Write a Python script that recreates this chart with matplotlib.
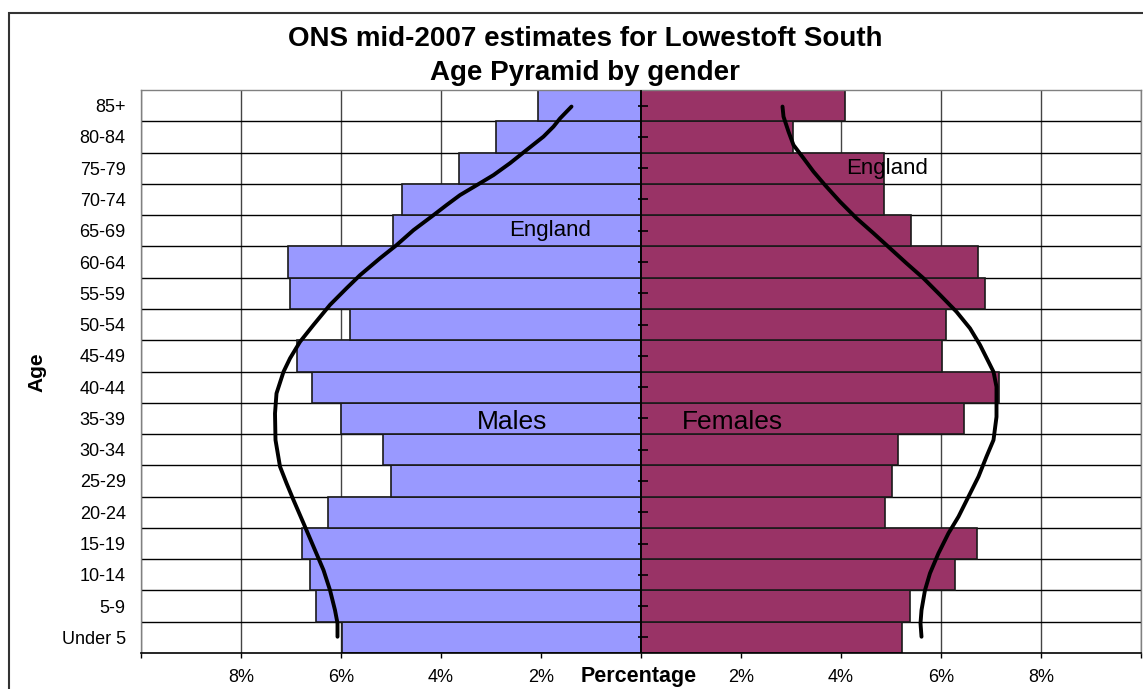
import numpy as np
import matplotlib
matplotlib.use('Agg')
import matplotlib.pyplot as plt
from matplotlib.patches import Rectangle

plt.rcParams['font.family'] = ['Liberation Sans', 'DejaVu Sans']

# ---------------- data ----------------
age_groups = ["Under 5", "5-9", "10-14", "15-19", "20-24", "25-29", "30-34",
              "35-39", "40-44", "45-49", "50-54", "55-59", "60-64", "65-69",
              "70-74", "75-79", "80-84", "85+"]
males = [5.99, 6.51, 6.62, 6.79, 6.27, 5.01, 5.16, 6.01, 6.58, 6.88,
         5.83, 7.03, 7.06, 4.96, 4.78, 3.64, 2.91, 2.07]
females = [5.22, 5.37, 6.28, 6.71, 4.88, 5.02, 5.14, 6.45, 7.15, 6.02,
           6.09, 6.88, 6.73, 5.39, 4.86, 4.86, 3.04, 4.07]

x_ticks = [-10, -8, -6, -4, -2, 0, 2, 4, 6, 8, 10]
x_tick_labels = ["", "8%", "6%", "4%", "2%", "", "2%", "4%", "6%", "8%", ""]

# hand-drawn England outlines (percent, position on age axis)
england_male_pct = [6.07, 6.07, 6.12, 6.22, 6.35, 6.55, 6.75, 6.95, 7.09, 7.22,
                    7.31, 7.32, 7.29, 7.15, 7.02, 6.82, 6.55, 6.22, 5.89, 5.62,
                    5.22, 4.89, 4.55, 4.15, 3.89, 3.62, 3.22, 2.95, 2.62, 2.29,
                    1.95, 1.75, 1.62, 1.39]
england_male_pos = [0.02, 0.45, 0.87, 1.51, 2.15, 2.90, 3.65, 4.39, 4.93, 5.46,
                    6.31, 7.16, 7.80, 8.49, 8.92, 9.45, 9.99, 10.63, 11.16, 11.58,
                    12.12, 12.54, 13.02, 13.50, 13.82, 14.14, 14.52, 14.78, 15.16, 15.58,
                    16.01, 16.33, 16.59, 16.97]
england_female_pct = [5.61, 5.59, 5.61, 5.68, 5.78, 5.95, 6.15, 6.35, 6.55, 6.75,
                      6.91, 7.05, 7.11, 7.11, 7.05, 6.95, 6.78, 6.58, 6.31, 5.98,
                      5.65, 5.31, 4.98, 4.65, 4.31, 3.98, 3.68, 3.45, 3.25, 3.05,
                      2.95, 2.85, 2.83]
england_female_pos = [0.02, 0.45, 0.87, 1.51, 2.05, 2.69, 3.33, 3.86, 4.50, 5.14,
                      5.78, 6.31, 7.05, 8.01, 8.49, 8.81, 9.35, 9.88, 10.41, 10.95,
                      11.48, 11.96, 12.44, 12.92, 13.40, 13.93, 14.46, 14.89, 15.32, 15.74,
                      16.17, 16.65, 16.97]

title_lines = ["ONS mid-2007 estimates for Lowestoft South", "Age Pyramid by gender"]

# ---------------- figure ----------------
W, H = 1143, 689
fig = plt.figure(figsize=(W / 100, H / 100), dpi=100)
ax = fig.add_axes([141 / W, 1 - 653 / H, 1000 / W, 563 / H])

pos = np.arange(len(age_groups))

ax.barh(pos, -np.array(males), height=1.0, color='#9999FF',
        edgecolor='#1a1a1a', linewidth=1.2, zorder=2)
ax.barh(pos, np.array(females), height=1.0, color='#993366',
        edgecolor='#1a1a1a', linewidth=1.2, zorder=2)

ax.set_xlim(-10, 10)
ax.set_ylim(-0.5, len(age_groups) - 0.5)

# grid
ax.set_xticks(x_ticks)
ax.set_xticklabels(x_tick_labels)
ax.xaxis.grid(True, color='#444444', linewidth=1.0, zorder=0)
ax.set_axisbelow(True)
ax.hlines(pos[:-1] + 0.5, -10, 10, color='black', linewidth=1.0, zorder=1)

# center axis with ticks
ax.axvline(0, color='black', linewidth=1.2, zorder=3)
ax.plot(np.zeros(len(pos)) + 0.03, pos, linestyle='none', marker='_',
        markersize=7, markeredgewidth=1.2, color='black', zorder=3)

# England curves
ax.plot(-np.array(england_male_pct), england_male_pos, color='black', lw=2.8,
        solid_capstyle='round', solid_joinstyle='round', zorder=5)
ax.plot(np.array(england_female_pct), england_female_pos, color='black', lw=2.8,
        solid_capstyle='round', solid_joinstyle='round', zorder=5)

# annotations
ax.text(-1.82, 13.0, "England", fontsize=16, ha='center', va='center', zorder=6)
ax.text(4.92, 15.0, "England", fontsize=16, ha='center', va='center', zorder=6)
ax.text(-2.58, 6.9, "Males", fontsize=19, ha='center', va='center', zorder=6)
ax.text(1.82, 6.9, "Females", fontsize=19, ha='center', va='center', zorder=6)

# ticks / spines
ax.set_yticks(pos)
ax.set_yticklabels(age_groups)
ax.tick_params(axis='y', length=0, pad=11, labelsize=13)
ax.tick_params(axis='x', length=3.6, width=1, direction='out', pad=8,
               labelsize=13, color='black')
for s in ['top', 'right', 'left']:
    ax.spines[s].set_color('#808080')
    ax.spines[s].set_linewidth(1.0)
ax.spines['bottom'].set_color('black')
ax.spines['bottom'].set_linewidth(1.2)

# labels
fig.text(639 / W, 1 - 682 / H, "Percentage", ha='center', va='baseline',
         fontsize=15.5, fontweight='bold')
fig.text(37 / W, 1 - 372 / H, "Age", ha='center', va='center', rotation=90,
         fontsize=15, fontweight='bold')
fig.text(585 / W, 1 - 46 / H, title_lines[0], ha='center', va='baseline',
         fontsize=20, fontweight='bold')
fig.text(585 / W, 1 - 80 / H, title_lines[1], ha='center', va='baseline',
         fontsize=20, fontweight='bold')

# outer chart border
fig.patches.append(Rectangle((8.5 / W, -0.1), 1.2, 1.1 - 12.7 / H,
                             transform=fig.transFigure, fill=False,
                             edgecolor='#333333', linewidth=1.5))

fig.savefig('out.png', dpi=100)
